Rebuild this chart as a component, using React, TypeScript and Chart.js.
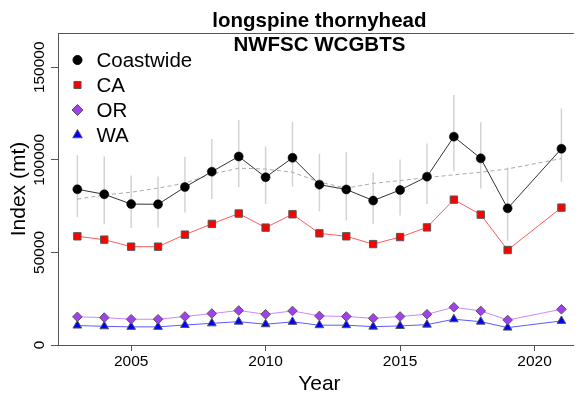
import React, { useEffect, useRef } from 'react';
import { Chart, registerables } from 'chart.js';

Chart.register(...registerables);

const years = [2003, 2004, 2005, 2006, 2007, 2008, 2009, 2010, 2011, 2012, 2013, 2014, 2015, 2016, 2017, 2018, 2019, 2021];
const coastwide = [84100, 81400, 76100, 76000, 85300, 93600, 101800, 90600, 101100, 86600, 84000, 78000, 83700, 90900, 112500, 100800, 73800, 106000];
const coastUpper = [102500, 101800, 91500, 91000, 101600, 111200, 121500, 107200, 120400, 103300, 104300, 93200, 100200, 108800, 135000, 120300, 95800, 127700];
const coastLower = [69000, 65200, 63200, 63500, 71600, 78900, 85200, 76200, 85400, 72200, 67200, 65400, 69900, 76200, 93900, 84500, 56300, 88000];
const trend = [78800, 81000, 82500, 84700, 87400, 92300, 95500, 95000, 93300, 88000, 84700, 87300, 88800, 90400, 91900, 93300, 95100, 100700];
const caValues = [58700, 56900, 53100, 53100, 59600, 65400, 71000, 63400, 70600, 60300, 58700, 54500, 58300, 63500, 78500, 70400, 51300, 74200];
const orValues = [15200, 14800, 13900, 13900, 15400, 17000, 18600, 16600, 18400, 15700, 15400, 14400, 15400, 16600, 20400, 18400, 13500, 19300];
const waValues = [10500, 10100, 9800, 9800, 10800, 11700, 12600, 11200, 12500, 10700, 10700, 9900, 10300, 11000, 13900, 12600, 9400, 13000];

const xTicks = [2005, 2010, 2015, 2020];
const yTicks = [0, 50000, 100000, 150000];
const titleLines = ['longspine thornyhead', 'NWFSC WCGBTS'];
const seriesNames = ['Coastwide', 'CA', 'OR', 'WA'];
const xTitle = 'Year';
const yTitle = 'Index (mt)';

const FONT = '"Liberation Sans", Arial, Helvetica, sans-serif';
const AXIS = '#555555';

function pts(vals: number[]) {
  return years.map((y, i) => ({ x: y, y: vals[i] }));
}

function drawMarker(ctx: CanvasRenderingContext2D, style: string, x: number, y: number, r: number, fill: string, stroke: string) {
  ctx.save();
  ctx.beginPath();
  if (style === 'circle') {
    ctx.arc(x, y, r, 0, Math.PI * 2);
  } else if (style === 'rect') {
    const s = r * Math.SQRT1_2;
    ctx.rect(x - s, y - s, 2 * s, 2 * s);
  } else if (style === 'rectRot') {
    ctx.moveTo(x - r, y);
    ctx.lineTo(x, y - r);
    ctx.lineTo(x + r, y);
    ctx.lineTo(x, y + r);
    ctx.closePath();
  } else {
    const w = r * Math.sqrt(3) / 2;
    ctx.moveTo(x, y - r);
    ctx.lineTo(x + w, y + r / 2);
    ctx.lineTo(x - w, y + r / 2);
    ctx.closePath();
  }
  ctx.fillStyle = fill;
  ctx.fill();
  ctx.lineWidth = 1;
  ctx.strokeStyle = stroke;
  ctx.stroke();
  ctx.restore();
}

export default function App() {
  const ref = useRef<HTMLCanvasElement>(null);

  useEffect(() => {
    if (!ref.current) return;

    const errorBars = {
      id: 'errorBars',
      beforeDatasetsDraw(chart: any) {
        const { ctx, chartArea, scales } = chart;
        ctx.save();
        ctx.beginPath();
        ctx.rect(chartArea.left, chartArea.top, chartArea.right - chartArea.left, chartArea.bottom - chartArea.top);
        ctx.clip();
        ctx.strokeStyle = '#d3d3d3';
        ctx.lineWidth = 1.5;
        years.forEach((yr, i) => {
          const x = scales.x.getPixelForValue(yr);
          ctx.beginPath();
          ctx.moveTo(x, scales.y.getPixelForValue(coastUpper[i]));
          ctx.lineTo(x, scales.y.getPixelForValue(coastLower[i]));
          ctx.stroke();
        });
        ctx.restore();
      },
    };

    const decor = {
      id: 'decor',
      afterDraw(chart: any) {
        const { ctx, chartArea, scales } = chart;
        const xs = scales.x;
        const ys = scales.y;
        ctx.save();
        // top border of box
        ctx.strokeStyle = AXIS;
        ctx.lineWidth = 1;
        ctx.beginPath();
        ctx.moveTo(chartArea.left, Math.round(chartArea.top) + 0.5);
        ctx.lineTo(chartArea.right, Math.round(chartArea.top) + 0.5);
        ctx.stroke();

        ctx.fillStyle = '#000';
        // x tick labels
        ctx.font = `15.5px ${FONT}`;
        ctx.textAlign = 'center';
        ctx.textBaseline = 'middle';
        xs.ticks.forEach((t: any) => {
          ctx.fillText(String(t.value), xs.getPixelForValue(t.value), 362);
        });
        // y tick labels (rotated)
        ys.ticks.forEach((t: any) => {
          ctx.save();
          ctx.translate(39.5, ys.getPixelForValue(t.value));
          ctx.rotate(-Math.PI / 2);
          ctx.fillText(String(t.value), 0, 0);
          ctx.restore();
        });
        // axis titles
        ctx.font = `21px ${FONT}`;
        ctx.fillText(xTitle, xs.getPixelForValue(2012), 384);
        ctx.save();
        ctx.translate(19.5, (chartArea.top + chartArea.bottom) / 2);
        ctx.rotate(-Math.PI / 2);
        ctx.fillText(yTitle, 0, 0);
        ctx.restore();
        // title
        ctx.font = `bold 20.5px ${FONT}`;
        ctx.fillText(titleLines[0], xs.getPixelForValue(2012), 21);
        ctx.fillText(titleLines[1], xs.getPixelForValue(2012), 45);

        // legend
        const ds = chart.data.datasets.filter((d: any) => d.inLegend);
        ctx.font = `20.5px ${FONT}`;
        ctx.textAlign = 'left';
        ds.forEach((d: any, i: number) => {
          const y = 60 + i * 25;
          drawMarker(ctx, d.pointStyle, 77.5, y, d.legendRadius, d.pointBackgroundColor, d.pointBorderColor);
          ctx.fillStyle = '#000';
          ctx.fillText(d.label, 96.5, y + 1);
        });
        ctx.restore();
      },
    };

    const chart = new Chart(ref.current, {
      type: 'line',
      data: {
        datasets: [
          {
            label: 'trend',
            data: pts(trend),
            borderColor: '#a9a9a9',
            borderWidth: 1,
            borderDash: [4, 3],
            pointRadius: 0,
            order: 6,
          },
          {
            label: seriesNames[0],
            inLegend: true,
            legendRadius: 4.5,
            data: pts(coastwide),
            borderColor: '#333333',
            borderWidth: 1,
            pointStyle: 'circle',
            pointRadius: 4.5,
            pointBackgroundColor: '#000000',
            pointBorderColor: '#000000',
            pointBorderWidth: 0.5,
            order: 1,
          },
          {
            label: seriesNames[1],
            inLegend: true,
            legendRadius: 5,
            data: pts(caValues),
            borderColor: '#ff5a5a',
            borderWidth: 1,
            pointStyle: 'rect',
            pointRadius: 5.2,
            pointBackgroundColor: '#ff0000',
            pointBorderColor: '#555555',
            pointBorderWidth: 1,
            order: 2,
          },
          {
            label: seriesNames[2],
            inLegend: true,
            legendRadius: 5.5,
            data: pts(orValues),
            borderColor: '#cc88ff',
            borderWidth: 1,
            pointStyle: 'rectRot',
            pointRadius: 4.8,
            pointBackgroundColor: '#a040f0',
            pointBorderColor: '#555555',
            pointBorderWidth: 1,
            order: 3,
          },
          {
            label: seriesNames[3],
            inLegend: true,
            legendRadius: 5.5,
            data: pts(waValues),
            borderColor: '#5a5aff',
            borderWidth: 1,
            pointStyle: 'triangle',
            pointRadius: 5,
            pointBackgroundColor: '#0000ff',
            pointBorderColor: '#555555',
            pointBorderWidth: 1,
            order: 4,
          },
        ] as any,
      },
      options: {
        responsive: false,
        animation: false,
        events: [],
        layout: { padding: { top: 33, left: 0, right: 0, bottom: 0 } },
        elements: { line: { tension: 0 } },
        plugins: {
          legend: { display: false },
          title: { display: false },
          tooltip: { enabled: false },
        },
        scales: {
          x: {
            type: 'linear',
            min: 2002.28,
            max: 2021.46,
            afterBuildTicks: (s: any) => {
              s.ticks = xTicks.map((v) => ({ value: v }));
            },
            afterFit: (s: any) => {
              s.height = 50;
            },
            grid: { display: true, drawOnChartArea: false, drawTicks: true, tickLength: 6, color: AXIS, lineWidth: 1 },
            border: { display: true, color: AXIS, width: 1 },
            ticks: { display: false },
          },
          y: {
            type: 'linear',
            min: 0,
            max: 168500,
            afterBuildTicks: (s: any) => {
              s.ticks = yTicks.map((v) => ({ value: v }));
            },
            afterFit: (s: any) => {
              s.width = 58;
            },
            grid: { display: true, drawOnChartArea: false, drawTicks: true, tickLength: 7, color: AXIS, lineWidth: 1 },
            border: { display: true, color: AXIS, width: 1 },
            ticks: { display: false },
          },
        },
      } as any,
      plugins: [errorBars, decor],
    });

    return () => chart.destroy();
  }, []);

  return (
    <div style={{ position: 'absolute', left: 0, top: 0, width: 580, height: 395, background: '#fff' }}>
      <canvas ref={ref} width={580} height={395} style={{ display: 'block' }} />
    </div>
  );
}
